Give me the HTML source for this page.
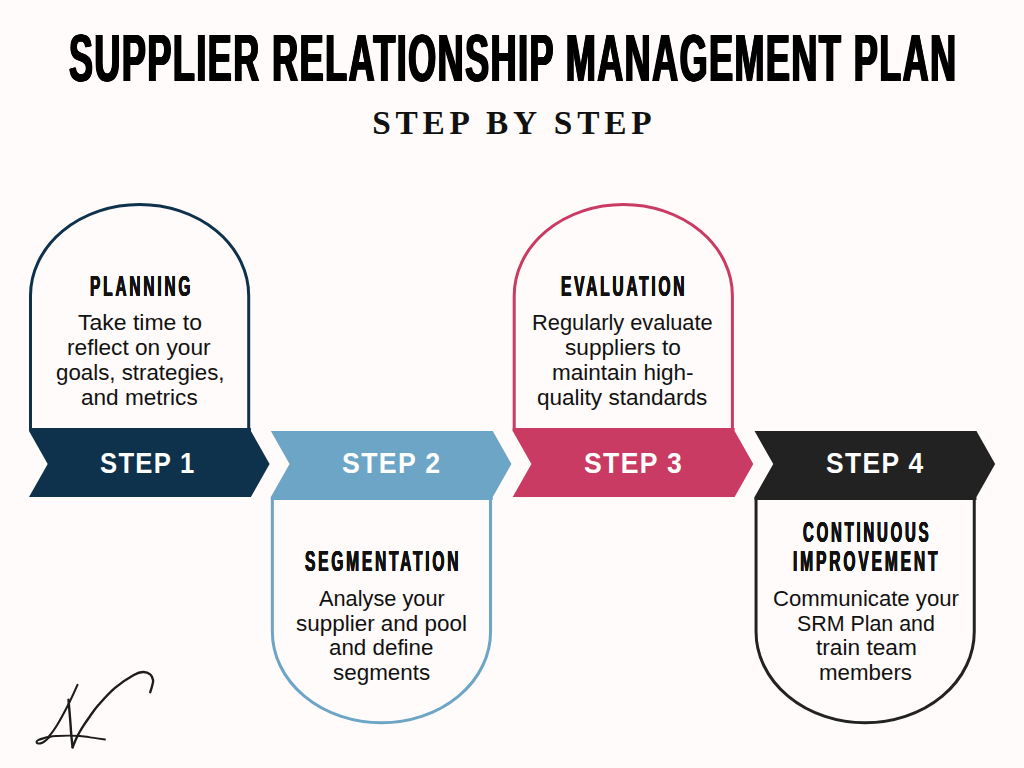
<!DOCTYPE html>
<html><head><meta charset="utf-8">
<style>
html,body{margin:0;padding:0;}
body{width:1024px;height:768px;background:#fffbfa;position:relative;overflow:hidden;font-family:"Liberation Sans",sans-serif;}
svg{position:absolute;left:0;top:0;}
.t{position:absolute;white-space:nowrap;transform-origin:0 0;}
</style></head><body>
<svg width="1024" height="768" viewBox="0 0 1024 768">
<path d="M30.50 429.5 V295.60 A109.10 91.10 0 0 1 248.70 295.60 V429.5 Z" fill="none" stroke="#0e314c" stroke-width="3"/>
<polygon points="29.00,428 250.90,428 250.90,431 269.60,464 250.90,497 29.00,497 47.70,464 29.00,431" fill="#0e314c"/>
<path d="M272.35 498.5 V631.70 A109.10 91.10 0 0 0 490.55 631.70 V498.5 Z" fill="none" stroke="#6ca5c5" stroke-width="3"/>
<polygon points="270.85,431 492.75,431 511.45,464 492.75,497 492.75,500 270.85,500 270.85,497 289.55,464" fill="#6ca5c5"/>
<path d="M514.20 429.5 V295.60 A109.10 91.10 0 0 1 732.40 295.60 V429.5 Z" fill="none" stroke="#c93b63" stroke-width="3"/>
<polygon points="512.70,428 734.60,428 734.60,431 753.30,464 734.60,497 512.70,497 531.40,464 512.70,431" fill="#c93b63"/>
<path d="M756.05 498.5 V631.70 A109.10 91.10 0 0 0 974.25 631.70 V498.5 Z" fill="none" stroke="#222222" stroke-width="3"/>
<polygon points="754.55,431 976.45,431 995.15,464 976.45,497 976.45,500 754.55,500 754.55,497 773.25,464" fill="#222222"/>
  <g fill="none" stroke="#1c1c1c" stroke-linecap="round" stroke-linejoin="round">
    <path d="M77.5 684.9 C76.0 688.0 72.0 697.2 68.7 703.7 C65.4 710.2 60.8 718.9 57.6 724.2 C54.4 729.5 51.5 733.4 49.5 735.6 C47.5 737.8 47.4 736.9 45.6 737.6 C43.8 738.3 40.1 739.2 38.6 739.9 C37.1 740.6 36.7 741.3 36.6 741.9 C36.5 742.5 36.9 743.2 37.8 743.4 C38.6 743.6 40.3 743.6 41.7 743.0 C43.1 742.4 45.0 740.9 46.4 739.9 C47.8 738.9 48.5 737.4 50.3 736.8 C52.1 736.1 56.1 736.1 57.3 736.0" stroke-width="2.1"/>
    <path d="M57.3 736.0 C59.2 735.9 65.2 735.6 69.0 735.6 C72.8 735.6 76.1 735.7 80.0 736.0 C83.9 736.3 88.3 737.0 92.5 737.6 C96.7 738.2 102.9 739.2 105.0 739.5" stroke-width="1.8"/>
    <path d="M68.5 699.6 C68.8 703.0 69.7 714.1 70.2 720.0 C70.7 725.9 70.9 730.5 71.3 735.0 C71.7 739.5 72.4 745.2 72.6 747.3" stroke-width="2.4"/>
    <path d="M72.6 747.3 C73.2 745.8 75.2 740.8 76.5 738.0 C77.8 735.2 79.2 732.7 80.5 730.5 C81.8 728.3 82.4 727.2 84.0 724.8 C85.6 722.4 87.6 719.5 90.0 716.2 C92.4 712.9 94.4 709.5 98.6 704.8 C102.8 700.1 109.1 692.9 115.0 687.9 C120.9 682.9 129.1 677.6 133.8 675.0 C138.5 672.4 140.4 672.1 143.1 672.0 C145.8 671.9 148.5 673.0 150.2 674.4 C151.9 675.8 152.8 678.2 153.1 680.2 C153.4 682.2 152.4 684.7 151.9 686.7 C151.4 688.7 150.5 691.3 150.2 692.2" stroke-width="2.4"/>
  </g>

</svg>
<div class="t" style="left:68.65px;top:24.33px;font-family:'Liberation Sans',sans-serif;font-weight:bold;font-size:67.30px;line-height:67.30px;color:#000;text-shadow:1.60px 0 0 #000,-1.60px 0 0 #000,0.80px 0 0 #000,-0.80px 0 0 #000;letter-spacing:2.76px;transform:scaleX(0.5345)">SUPPLIER RELATIONSHIP MANAGEMENT PLAN</div>
<div class="t" style="left:372.22px;top:105.81px;font-family:'Liberation Serif',serif;font-weight:bold;font-size:33.36px;line-height:33.36px;color:#111;letter-spacing:4.78px">STEP BY STEP</div>
<div class="t" style="left:89.72px;top:270.82px;font-family:'Liberation Sans',sans-serif;font-weight:bold;font-size:29.51px;line-height:29.51px;color:#111;text-shadow:0.30px 0 0 #111,-0.30px 0 0 #111,0.15px 0 0 #111,-0.15px 0 0 #111;letter-spacing:5.39px;transform:scaleX(0.5238)">PLANNING</div>
<div class="t" style="left:560.91px;top:270.92px;font-family:'Liberation Sans',sans-serif;font-weight:bold;font-size:29.51px;line-height:29.51px;color:#111;text-shadow:0.30px 0 0 #111,-0.30px 0 0 #111,0.15px 0 0 #111,-0.15px 0 0 #111;letter-spacing:5.11px;transform:scaleX(0.5294)">EVALUATION</div>
<div class="t" style="left:304.88px;top:546.32px;font-family:'Liberation Sans',sans-serif;font-weight:bold;font-size:29.51px;line-height:29.51px;color:#111;text-shadow:0.30px 0 0 #111,-0.30px 0 0 #111,0.15px 0 0 #111,-0.15px 0 0 #111;letter-spacing:5.25px;transform:scaleX(0.5274)">SEGMENTATION</div>
<div class="t" style="left:803.23px;top:517.35px;font-family:'Liberation Sans',sans-serif;font-weight:bold;font-size:29.36px;line-height:29.36px;color:#111;text-shadow:0.30px 0 0 #111,-0.30px 0 0 #111,0.15px 0 0 #111,-0.15px 0 0 #111;letter-spacing:5.43px;transform:scaleX(0.5101)">CONTINUOUS</div>
<div class="t" style="left:793.42px;top:546.35px;font-family:'Liberation Sans',sans-serif;font-weight:bold;font-size:29.36px;line-height:29.36px;color:#111;text-shadow:0.30px 0 0 #111,-0.30px 0 0 #111,0.15px 0 0 #111,-0.15px 0 0 #111;letter-spacing:5.42px;transform:scaleX(0.5299)">IMPROVEMENT</div>
<div class="t" style="left:100.01px;top:448.22px;font-family:'Liberation Sans',sans-serif;font-weight:bold;font-size:29.51px;line-height:29.51px;color:#fff;letter-spacing:1.50px;transform:scaleX(0.8689)">STEP 1</div>
<div class="t" style="left:342.08px;top:448.22px;font-family:'Liberation Sans',sans-serif;font-weight:bold;font-size:29.51px;line-height:29.51px;color:#fff;letter-spacing:1.49px;transform:scaleX(0.9040)">STEP 2</div>
<div class="t" style="left:583.78px;top:448.22px;font-family:'Liberation Sans',sans-serif;font-weight:bold;font-size:29.51px;line-height:29.51px;color:#fff;letter-spacing:1.49px;transform:scaleX(0.9011)">STEP 3</div>
<div class="t" style="left:825.69px;top:448.22px;font-family:'Liberation Sans',sans-serif;font-weight:bold;font-size:29.51px;line-height:29.51px;color:#fff;letter-spacing:1.51px;transform:scaleX(0.8947)">STEP 4</div>
<div class="t" style="left:78.08px;top:311.84px;font-family:'Liberation Sans',sans-serif;font-weight:normal;font-size:21.80px;line-height:21.80px;color:#111;transform:scaleX(1.0549)">Take time to</div>
<div class="t" style="left:67.39px;top:336.84px;font-family:'Liberation Sans',sans-serif;font-weight:normal;font-size:21.80px;line-height:21.80px;color:#111;transform:scaleX(1.0395)">reflect on your</div>
<div class="t" style="left:56.26px;top:361.84px;font-family:'Liberation Sans',sans-serif;font-weight:normal;font-size:21.80px;line-height:21.80px;color:#111;transform:scaleX(1.0225)">goals, strategies,</div>
<div class="t" style="left:81.13px;top:386.84px;font-family:'Liberation Sans',sans-serif;font-weight:normal;font-size:21.80px;line-height:21.80px;color:#111;transform:scaleX(1.0358)">and metrics</div>
<div class="t" style="left:531.81px;top:311.84px;font-family:'Liberation Sans',sans-serif;font-weight:normal;font-size:21.80px;line-height:21.80px;color:#111;transform:scaleX(1.0009)">Regularly evaluate</div>
<div class="t" style="left:564.74px;top:336.84px;font-family:'Liberation Sans',sans-serif;font-weight:normal;font-size:21.80px;line-height:21.80px;color:#111;transform:scaleX(1.0388)">suppliers to</div>
<div class="t" style="left:552.09px;top:361.84px;font-family:'Liberation Sans',sans-serif;font-weight:normal;font-size:21.80px;line-height:21.80px;color:#111;transform:scaleX(1.0335)">maintain high-</div>
<div class="t" style="left:537.34px;top:386.84px;font-family:'Liberation Sans',sans-serif;font-weight:normal;font-size:21.80px;line-height:21.80px;color:#111;transform:scaleX(1.0337)">quality standards</div>
<div class="t" style="left:318.81px;top:587.84px;font-family:'Liberation Sans',sans-serif;font-weight:normal;font-size:21.80px;line-height:21.80px;color:#111;transform:scaleX(0.9978)">Analyse your</div>
<div class="t" style="left:296.14px;top:612.84px;font-family:'Liberation Sans',sans-serif;font-weight:normal;font-size:21.80px;line-height:21.80px;color:#111;transform:scaleX(1.0301)">supplier and pool</div>
<div class="t" style="left:329.04px;top:636.84px;font-family:'Liberation Sans',sans-serif;font-weight:normal;font-size:21.80px;line-height:21.80px;color:#111;transform:scaleX(1.0257)">and define</div>
<div class="t" style="left:332.64px;top:661.84px;font-family:'Liberation Sans',sans-serif;font-weight:normal;font-size:21.80px;line-height:21.80px;color:#111;transform:scaleX(1.0282)">segments</div>
<div class="t" style="left:772.77px;top:587.84px;font-family:'Liberation Sans',sans-serif;font-weight:normal;font-size:21.80px;line-height:21.80px;color:#111;transform:scaleX(1.0165)">Communicate your</div>
<div class="t" style="left:796.77px;top:612.84px;font-family:'Liberation Sans',sans-serif;font-weight:normal;font-size:21.80px;line-height:21.80px;color:#111;transform:scaleX(0.9810)">SRM Plan and</div>
<div class="t" style="left:815.75px;top:636.84px;font-family:'Liberation Sans',sans-serif;font-weight:normal;font-size:21.80px;line-height:21.80px;color:#111;transform:scaleX(1.0405)">train team</div>
<div class="t" style="left:819.31px;top:661.84px;font-family:'Liberation Sans',sans-serif;font-weight:normal;font-size:21.80px;line-height:21.80px;color:#111;transform:scaleX(1.0236)">members</div>
</body></html>
